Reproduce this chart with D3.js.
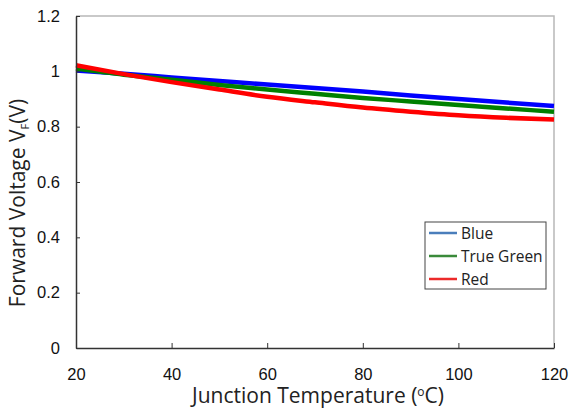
<!DOCTYPE html>
<html>
  <head>
    <meta charset="utf-8">
    <script src="https://cdn.jsdelivr.net/npm/d3@7"></script>
    <style type="text/css">
      body { margin: 0; background: #fff; }
      .axis text { font-family: "Liberation Sans", Arial, sans-serif; font-size: 16.5px; fill: #111; }
      .title { font-family: "Open Sans", sans-serif; fill: #222; }
      .line { fill: none; stroke-width: 4.5; }
    </style>
  </head>
  <body>
    <div class="plot_canvas"></div>
    <script>
      // data
      var temps = [20, 30, 40, 50, 60, 70, 80, 90, 100, 110, 120];
      var blue  = [1.003, 0.991, 0.978, 0.965, 0.952, 0.940, 0.927, 0.913, 0.900, 0.887, 0.875];
      var green = [1.010, 0.988, 0.970, 0.951, 0.934, 0.919, 0.904, 0.891, 0.878, 0.866, 0.854];
      var red   = [1.022, 0.990, 0.961, 0.934, 0.908, 0.888, 0.869, 0.854, 0.841, 0.832, 0.826];
      var seriesNames = ["Blue", "True Green", "Red"];
      var xTicks = [20, 40, 60, 80, 100, 120];
      var yTicks = [0, 0.2, 0.4, 0.6, 0.8, 1, 1.2];

      var width = 570, height = 411;
      var margin = {top: 16, right: 16, bottom: 63, left: 76};

      var series = [
        {name: seriesNames[0], values: blue,  color: "#0000ff", legend: "#4a7ebb"},
        {name: seriesNames[1], values: green, color: "#008000", legend: "#3a8a3a"},
        {name: seriesNames[2], values: red,   color: "#ff0000", legend: "#ec2a2a"}
      ];

      var xScale = d3.scaleLinear().domain([20, 120]).range([margin.left, width - margin.right]);
      var yScale = d3.scaleLinear().domain([0, 1.2]).range([height - margin.bottom, margin.top]);

      var svg = d3.select(".plot_canvas").append("svg")
        .attr("width", width)
        .attr("height", height);

      // top and right frame
      svg.append("path")
        .attr("d", "M" + xScale(20) + "," + yScale(1.2) + "H" + xScale(120) + "V" + yScale(0))
        .attr("fill", "none")
        .attr("stroke", "#b8b8b8")
        .attr("stroke-width", 1.5);

      var line = d3.line()
        .x(function(d, i) { return xScale(temps[i]); })
        .y(function(d) { return yScale(d); })
        .curve(d3.curveMonotoneX);

      series.forEach(function(s) {
        svg.append("path")
          .attr("class", "line")
          .attr("stroke", s.color)
          .attr("d", line(s.values));
      });

      // axes, ticks pointing inward
      var xAxis = svg.append("g")
        .attr("class", "axis")
        .attr("transform", "translate(0," + yScale(0) + ")")
        .call(d3.axisBottom(xScale).tickValues(xTicks).tickSizeInner(-5).tickSizeOuter(0).tickPadding(20));
      var yAxis = svg.append("g")
        .attr("class", "axis")
        .attr("transform", "translate(" + xScale(20) + ",0)")
        .call(d3.axisLeft(yScale).tickValues(yTicks).tickSizeInner(-4).tickSizeOuter(0).tickPadding(16)
          .tickFormat(function(d) { return String(d); }));
      [xAxis, yAxis].forEach(function(a) {
        a.select(".domain").attr("stroke", "#333").attr("stroke-width", 1.5);
        a.selectAll(".tick line").attr("stroke", "#333").attr("stroke-width", 1);
      });

      // axis titles
      svg.append("text")
        .attr("class", "title")
        .attr("x", 318)
        .attr("y", 403)
        .attr("text-anchor", "middle")
        .attr("font-size", 21)
        .html("Junction Temperature (<tspan dy='-7' font-size='12'>o</tspan><tspan dy='7'>C)</tspan>");

      svg.append("text")
        .attr("class", "title")
        .attr("transform", "translate(25,203) rotate(-90)")
        .attr("text-anchor", "middle")
        .attr("font-size", 21)
        .html("Forward Voltage V<tspan dy='4' font-size='11'>F</tspan><tspan dy='-4'>(V)</tspan>");

      // legend
      var legend = svg.append("g").attr("transform", "translate(425,222)");
      legend.append("rect")
        .attr("width", 121)
        .attr("height", 67)
        .attr("fill", "#fff")
        .attr("stroke", "#444")
        .attr("stroke-width", 1);
      series.forEach(function(s, i) {
        var y = 11 + i * 23;
        legend.append("line")
          .attr("x1", 4).attr("x2", 32)
          .attr("y1", y).attr("y2", y)
          .attr("stroke", s.legend)
          .attr("stroke-width", 2.5);
        legend.append("text")
          .attr("class", "title")
          .attr("x", 36)
          .attr("y", y + 5.5)
          .attr("font-size", 15.5)
          .text(s.name);
      });
    </script>
  </body>
</html>
